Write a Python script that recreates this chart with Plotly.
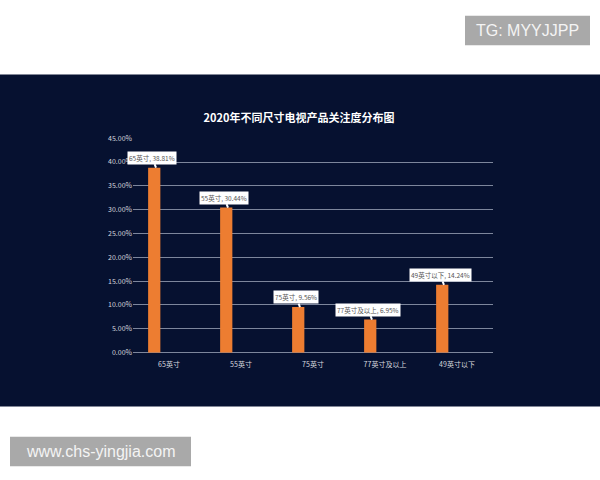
import plotly.graph_objects as go

# data
categories = ["65英寸", "55英寸", "75英寸", "77英寸及以上", "49英寸以下"]
share_pct = [38.81, 30.44, 9.56, 6.95, 14.24]
label_text = ["65英寸, 38.81%", "55英寸, 30.44%", "75英寸, 9.56%", "77英寸及以上, 6.95%", "49英寸以下, 14.24%"]
y_ticks = [0, 5, 10, 15, 20, 25, 30, 35, 40, 45]
y_tick_text = ["%.2f%%" % v for v in y_ticks]

cjk = "Noto Sans CJK SC"
bg = "#061130"
W, H = 600, 480


def px(x):
    return x / W


def py(y):
    return 1 - y / H


bars = go.Bar(
    x=categories,
    y=share_pct,
    width=0.17,
    offset=-0.29,
    marker=dict(color="#ed7d31", line=dict(width=0)),
    hoverinfo="x+y",
)

fig = go.Figure(data=[bars])

# callout labels above bars
for cat, val, txt in zip(categories, share_pct, label_text):
    fig.add_annotation(
        x=cat, y=val, xref="x", yref="y",
        text=txt, xshift=-13,
        showarrow=True, arrowhead=0, arrowwidth=2, arrowcolor="white",
        ax=-4, ay=-10, standoff=0,
        bgcolor="white", borderpad=1,
        font=dict(family=cjk, size=6.5, color="#555555"),
    )

# watermark boxes
fig.add_annotation(
    x=px(527.5), y=py(25), xref="paper", yref="paper",
    xanchor="center", yanchor="middle",
    text="TG: MYYJJPP", showarrow=False,
    font=dict(family="Liberation Sans", size=16, color="#f4f4f4"),
)
fig.add_annotation(
    x=px(100.5), y=py(455), xref="paper", yref="paper",
    xanchor="center", yanchor="middle",
    text="www.chs-yingjia.com", showarrow=False,
    font=dict(family="Liberation Sans", size=16, color="#f4f4f4"),
)

fig.update_layout(
    width=W, height=H,
    margin=dict(l=0, r=0, t=0, b=0),
    paper_bgcolor="white",
    plot_bgcolor="rgba(0,0,0,0)",
    showlegend=False,
    title=dict(
        text="<b>2020年不同尺寸电视产品关注度分布图</b>",
        x=px(299), y=py(118), xanchor="center", yanchor="middle",
        font=dict(family=cjk, size=11, color="white"),
    ),
    shapes=[
        dict(type="rect", xref="paper", yref="paper", layer="below",
             x0=0, x1=1, y0=py(409), y1=py(70),
             fillcolor=bg, line=dict(width=0)),
        dict(type="rect", xref="paper", yref="paper", layer="below",
             x0=px(465), x1=px(590), y0=py(40), y1=py(10),
             fillcolor="#a9a9a9", line=dict(width=0)),
        dict(type="rect", xref="paper", yref="paper", layer="below",
             x0=px(10), x1=px(191), y0=py(470), y1=py(440),
             fillcolor="#a9a9a9", line=dict(width=0)),
    ],
    xaxis=dict(
        domain=[px(133), px(493)],
        range=[-0.5, 4.5],
        showgrid=False, showline=False, zeroline=False,
        ticks="", ticklabelstandoff=6,
        tickfont=dict(family=cjk, size=7, color="#d6d8de"),
        fixedrange=True,
    ),
    yaxis=dict(
        domain=[py(354), py(135)],
        range=[0, 45], tickvals=y_ticks, ticktext=y_tick_text,
        showgrid=True, gridcolor="#7d869c", gridwidth=1,
        zeroline=True, zerolinecolor="#7d869c", zerolinewidth=1,
        showline=False, ticks="",
        tickfont=dict(family=cjk, size=7, color="#d6d8de"),
        fixedrange=True,
    ),
)

# drop the default page margin so the figure sits at the window corner
fig.write_html("out.html", config={"displayModeBar": False},
               post_script="document.body.style.margin = '0';")
